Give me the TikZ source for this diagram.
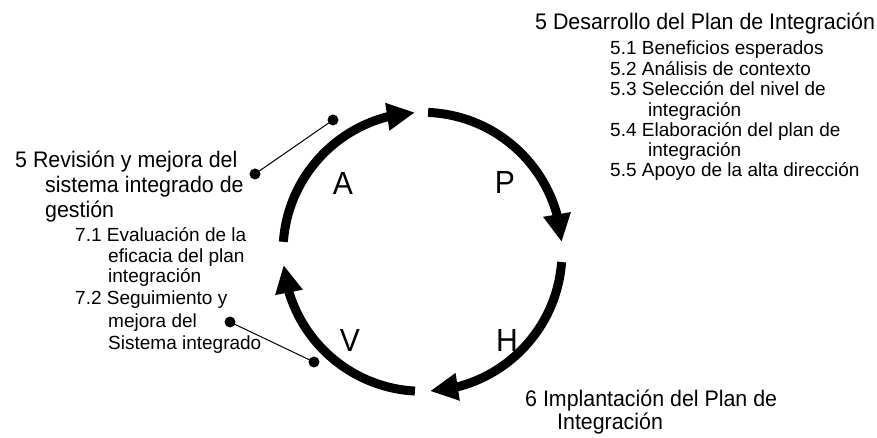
\documentclass[tikz,border=0pt]{standalone}
\usepackage{fontspec}
\setmainfont{Liberation Sans}
\newfontfamily\bigfam[FakeStretch=0.95]{Liberation Sans}
\newfontfamily\letfam[FakeStretch=0.94]{Liberation Sans}
\usetikzlibrary{arrows.meta,bending}
\begin{document}
\begin{tikzpicture}[x=1pt,y=1pt,
  big/.style={font=\bigfam\fontsize{22.5}{24}\selectfont, inner sep=0, anchor=base west},
  small/.style={font=\fontsize{19}{20}\selectfont, inner sep=0, anchor=base west},
  letter/.style={font=\letfam\fontsize{32}{34}\selectfont, inner sep=0},
  cyc/.style={line width=9pt, -{Triangle[length=28pt,width=26pt]}},
  dot/.style={circle, fill=black, inner sep=0, minimum size=11pt},
  lead/.style={line width=1pt}]
\useasboundingbox (0,0) rectangle (877,438);
\coordinate (c) at (422.5,186.2);
\def\R{139.5}
% cycle arcs
\draw[cyc] ([shift={(87.7:\R)}]c) arc[start angle=87.7, end angle=4, radius=\R];
\draw[cyc] ([shift={(-4.2:\R)}]c) arc[start angle=-4.2, end angle=-86.9, radius=\R];
\draw[cyc] ([shift={(-93.1:\R)}]c) arc[start angle=-93.1, end angle=-174.6, radius=\R];
\draw[cyc] ([shift={(175.9:\R)}]c) arc[start angle=175.9, end angle=93.1, radius=\R];
% letters
\node[letter] (P) at (505,256) {P};
\node[letter] (A) at (343,255) {A};
\node[letter] (H) at (507,98) {H};
\node[letter] (V) at (350,98) {V};
% top right text
\node[big] (t5) at (535,408) {5 Desarrollo del Plan de Integración};
\node[small] (t51) at (610,383) {5.1 Beneficios esperados};
\node[small] (t52) at (610,362) {5.2 Análisis de contexto};
\node[small] (t53) at (610,342) {5.3 Selección del nivel de};
\node[small] (t53b) at (648,321) {integración};
\node[small] (t54) at (610,301) {5.4 Elaboración del plan de};
\node[small] (t54b) at (648,281) {integración};
\node[small] (t55) at (610,261) {5.5 Apoyo de la alta dirección};
% left text
\node[big] (l5) at (15,270) {5 Revisión y mejora del};
\node[big] (l5b) at (45,245) {sistema integrado de};
\node[big] (l5c) at (45,220) {gestión};
\node[small] (l71) at (75,196) {7.1 Evaluación de la};
\node[small] (l71b) at (108,175) {eficacia del plan};
\node[small] (l71c) at (108,155) {integración};
\node[small] (l72) at (75,133) {7.2 Seguimiento y};
\node[small] (l72b) at (108,110) {mejora del};
\node[small] (l72c) at (108,88) {Sistema integrado};
% bottom text
\node[big] (b6) at (525,31) {6 Implantación del Plan de};
\node[big] (b6b) at (557,8) {Integración};
% leader lines
\node[dot] (d1) at (333,318) {};
\node[dot] (d2) at (255,264) {};
\node[dot] (d3) at (230,116) {};
\node[dot] (d4) at (314,76) {};
\draw[lead] (d1.center) -- (d2.center);
\draw[lead] (d3.center) -- (d4.center);
\end{tikzpicture}
\end{document}
